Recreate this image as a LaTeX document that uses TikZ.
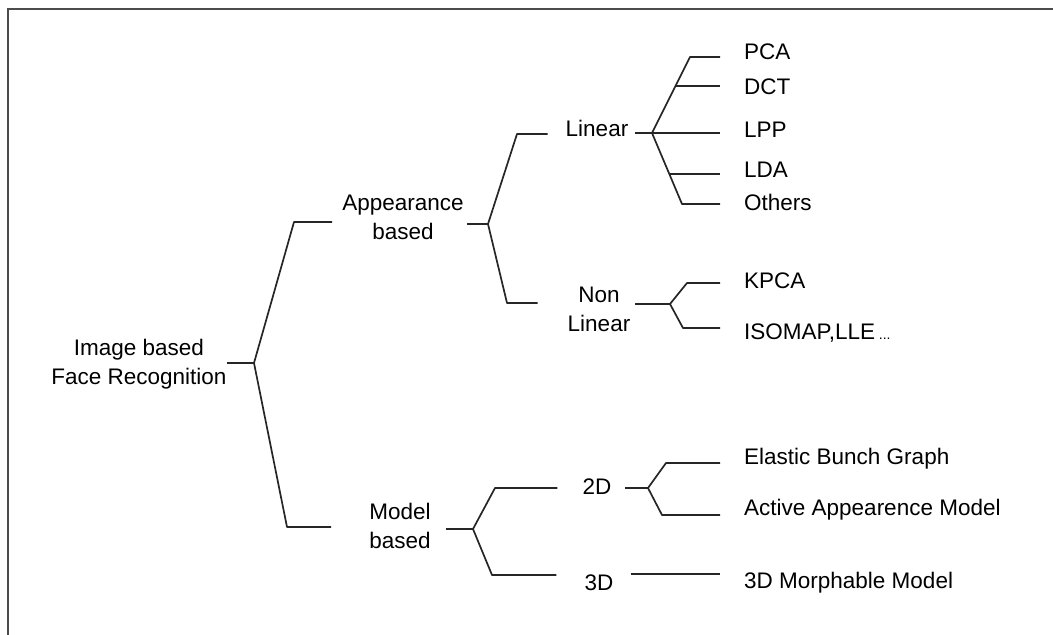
\documentclass[tikz,border=0pt]{standalone}
\usepackage{fontspec}
\setmainfont{Liberation Sans}
\usetikzlibrary{calc}

\begin{document}
\begin{tikzpicture}[x=1pt,y=-1pt,
  lbl/.style={font=\fontsize{22.5}{29}\selectfont,align=center,inner sep=0pt},
  leaf/.style={lbl,anchor=west,inner xsep=24pt},
  branch/.style={line width=1.7pt,black!85,line join=round}]
\useasboundingbox (0,0) rectangle (1053,635);
\draw[line width=2.4pt,black!70] (8,635) -- (8,9) -- (1053,9);

% labels
\node[lbl] (root) at (139,364) {Image based\\Face Recognition};
\node[lbl] (app)  at (403,217) {Appearance\\based};
\node[lbl] (mod)  at (400,526) {Model\\based};
\node[lbl] (lin)  at (597,128) {Linear};
\node[lbl] (nlin) at (599,309) {Non\\Linear};
\node[lbl] (twod) at (597,487) {2D};
\node[lbl] (thrd) at (599,583) {3D};

\node[leaf] (pca)  at (720,52)  {PCA};
\node[leaf] (dct)  at (720,87)  {DCT};
\node[leaf] (lpp)  at (720,130) {LPP};
\node[leaf] (lda)  at (720,170) {LDA};
\node[leaf] (oth)  at (720,202) {Others};
\node[leaf] (kpca) at (720,281) {KPCA};
\node[leaf] (iso)  at (720,333) {ISOMAP,LLE\,{\fontsize{14}{14}\selectfont...}};
\node[leaf] (ebg)  at (720,459) {Elastic Bunch Graph};
\node[leaf] (aam)  at (720,510) {Active Appearence Model};
\node[leaf] (mm)   at (720,583) {3D Morphable Model};

% fork points and elbows
\coordinate (f0) at (254,363);
\coordinate (fa) at (488,224);
\coordinate (fm) at (473,529);
\coordinate (fl) at (652,133);
\coordinate (fn) at (670,304);
\coordinate (f2) at (648,488);

\coordinate (e-app)  at (294,222);
\coordinate (e-mod)  at (287,527);
\coordinate (e-lin)  at (517,134);
\coordinate (e-nlin) at (507,303);
\coordinate (e-twod) at (495,488);
\coordinate (e-thrd) at (492,575);
\coordinate (e-pca)  at (690,57);
\coordinate (e-oth)  at (682,204);
\coordinate (e-dct)  at ($(fl)!0.62!(e-pca)$);
\coordinate (e-lda)  at ($(fl)!0.58!(e-oth)$);
\coordinate (e-kpca) at (687,283);
\coordinate (e-iso)  at (683,328);
\coordinate (e-ebg)  at (666,463);
\coordinate (e-aam)  at (662,515);

% stubs out of the parents
\draw[branch] (root.east |- f0) -- (f0);
\draw[branch] ([xshift=3pt]app.east |- fa) -- (fa);
\draw[branch] ([xshift=15pt]mod.east |- fm) -- (fm);
\draw[branch] ([xshift=7pt]lin.east |- fl) -- (fl);
\draw[branch] ([xshift=5pt]nlin.east |- fn) -- (fn);
\draw[branch] ([xshift=13pt]twod.east |- f2) -- (f2);

% first level
\draw[branch] ([xshift=-10pt]app.west |- e-app) -- (e-app) -- (f0)
  -- (e-mod) -- ([xshift=-38pt]mod.west |- e-mod);

% appearance based
\draw[branch] ([xshift=-18pt]lin.west |- e-lin) -- (e-lin) -- (fa)
  -- (e-nlin) -- ([xshift=-30pt]nlin.west |- e-nlin);

% model based
\draw[branch] ([xshift=-25pt]twod.west |- e-twod) -- (e-twod) -- (fm)
  -- (e-thrd) -- ([xshift=-28pt]thrd.west |- e-thrd);

% linear
\draw[branch] (e-pca -| pca.west) -- (e-pca) -- (fl) -- (e-oth) -- (e-oth -| oth.west);
\draw[branch] (e-dct) -- (e-dct -| dct.west);
\draw[branch] (fl) -- (fl -| lpp.west);
\draw[branch] (e-lda) -- (e-lda -| lda.west);

% non linear
\draw[branch] (e-kpca -| kpca.west) -- (e-kpca) -- (fn) -- (e-iso) -- (e-iso -| iso.west);

% 2D and 3D
\draw[branch] (e-ebg -| ebg.west) -- (e-ebg) -- (f2) -- (e-aam) -- (e-aam -| aam.west);
\draw[branch] ([xshift=17pt,yshift=9pt]thrd.east) -- ([yshift=9pt]mm.west);
\end{tikzpicture}
\end{document}
